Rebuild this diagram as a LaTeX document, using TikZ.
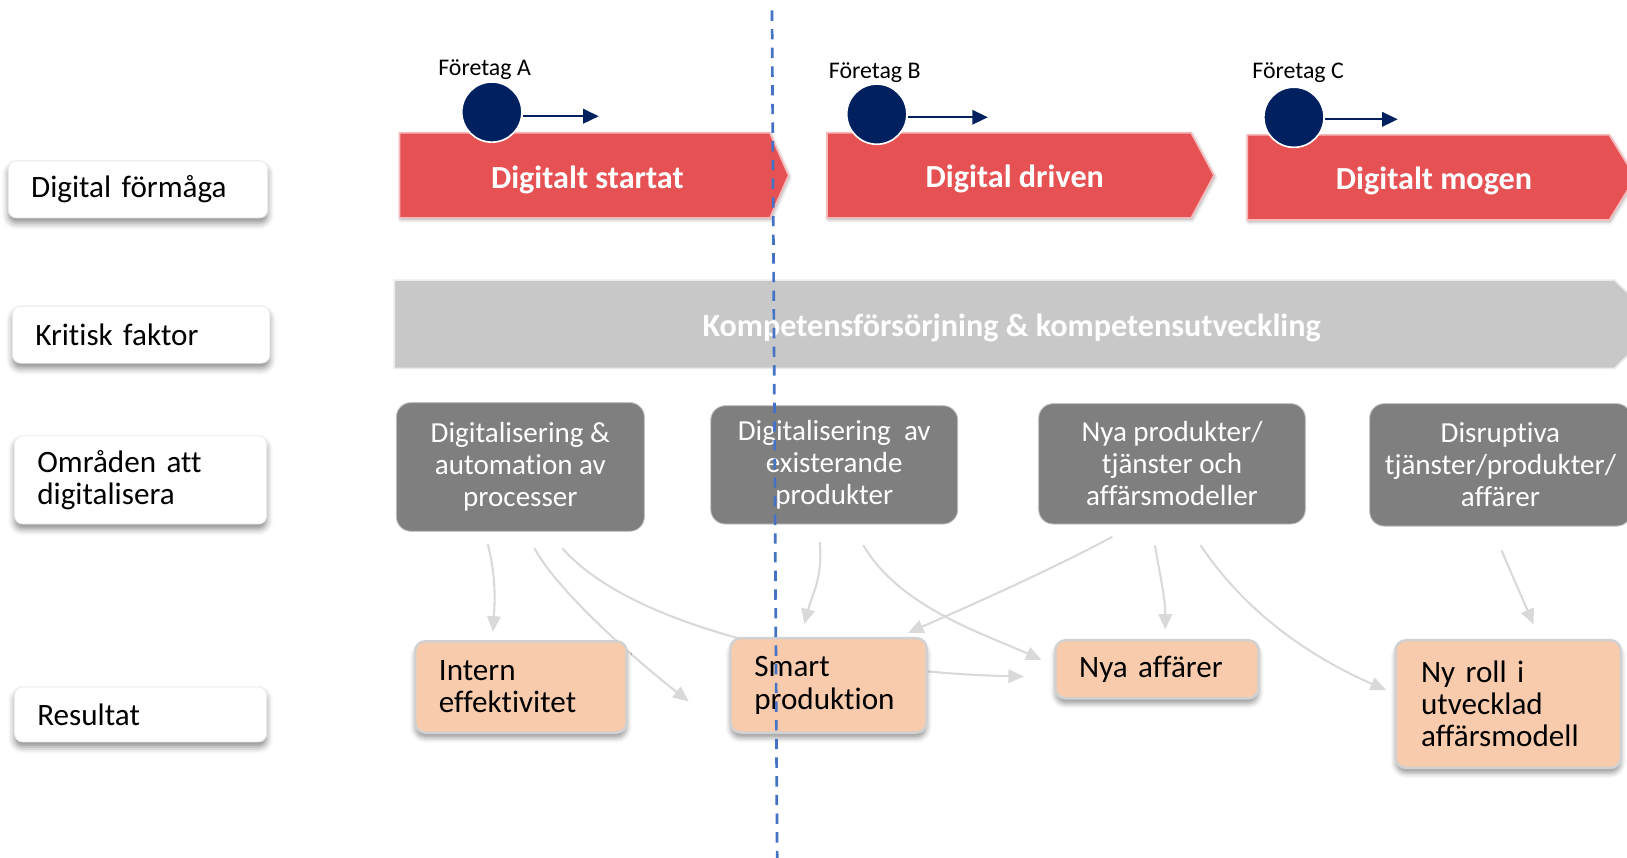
\documentclass[tikz,border=0pt]{standalone}
\usepackage{fontspec}
\setmainfont{Carlito}[Ligatures=NoCommon]
\usetikzlibrary{arrows.meta,calc,shadows.blur}

\definecolor{stagered}{RGB}{230,82,84}
\definecolor{firmnavy}{RGB}{0,32,96}
\definecolor{areagray}{RGB}{127,127,127}
\definecolor{bandgray}{RGB}{200,200,200}
\definecolor{respeach}{RGB}{248,203,173}
\definecolor{flowgray}{RGB}{217,217,217}
\definecolor{cutblue}{RGB}{68,114,196}

\pgfdeclarelayer{background}
\pgfsetlayers{background,main}

\begin{document}
\begin{tikzpicture}[x=0.5pt,y=-0.5pt,
    side/.style = {draw=black!8, fill=white, rounded corners=4pt, inner xsep=11pt, align=left,
        font=\fontsize{15}{15.5}\selectfont,
        blur shadow={shadow xshift=0pt, shadow yshift=-2.5pt, shadow blur radius=3pt, shadow opacity=45}},
    stage/.style = {fill=stagered, draw=stagered!40, line width=0.8pt,
        blur shadow={shadow xshift=0.5pt, shadow yshift=-1pt, shadow blur radius=1.5pt, shadow opacity=30}},
    stagetxt/.style = {text=white, font=\bfseries\fontsize{15.5}{18}\selectfont},
    band/.style = {fill=bandgray, draw=black!8, line width=0.8pt},
    firm/.style = {circle, fill=firmnavy, draw=white, line width=0.8pt, minimum size=29pt, inner sep=0pt},
    firmlbl/.style = {font=\fontsize{11.5}{13}\selectfont},
    move/.style = {draw=firmnavy, line width=0.9pt, -{Triangle[length=7.5pt,width=7pt]}},
    area/.style = {fill=areagray, draw=black!25, rounded corners=7pt, text=white, align=center,
        inner xsep=2pt, font=\fontsize{14}{15.5}\selectfont},
    res/.style = {fill=respeach, draw=black!18, line width=1.2pt, rounded corners=5pt, align=left,
        inner xsep=11.5pt, font=\fontsize{15}{15.5}\selectfont,
        blur shadow={shadow xshift=0pt, shadow yshift=-2.5pt, shadow blur radius=2.5pt, shadow opacity=40}},
    flow/.style = {draw=flowgray, line width=1pt, -{Triangle[length=7.5pt,width=6.5pt]}},
    cut/.style = {draw=cutblue, line width=1.3pt, dash pattern=on 5pt off 4pt}]

\useasboundingbox (0,0) rectangle (1568,826);
\clip (0,0) rectangle (1568,826);

% row labels
\node[side, text width=103pt, minimum height=27.5pt] (l1) at (133,182.5) {Digital förmåga};
\node[side, text width=102pt, minimum height=27.5pt] (l2) at (136,322.5) {Kritisk faktor};
\node[side, text width=99.5pt, minimum height=42.5pt] (l3) at (135.5,462.5) {Områden att\\digitalisera};
\node[side, text width=99.5pt, minimum height=26.5pt] (l4) at (135.5,688.5) {Resultat};

% stages
\draw[stage] (385,128) -- (742,128) -- (760,169) -- (742,210) -- (385,210) -- cycle;
\draw[stage] (797,128) -- (1148,128) -- (1170,169) -- (1148,210) -- (797,210) -- cycle;
\draw[stage] (1202,130) -- (1551,130) -- (1576,171) -- (1551,212) -- (1202,212) -- cycle;
\node[stagetxt] (s1) at (566,173) {Digitalt startat};
\node[stagetxt] (s2) at (978,172) {Digital driven};
\node[stagetxt] (s3) at (1382,174) {Digitalt mogen};

% firms
\node[firm] (cA) at (474,108) {};
\node[firm] (cB) at (845,110) {};
\node[firm] (cC) at (1247,113) {};
\node[firmlbl] (tA) at (467,67) {Företag A};
\node[firmlbl] (tB) at (843,70) {Företag B};
\node[firmlbl] (tC) at (1251,70) {Företag C};
\coordinate (eA) at (577,112);
\coordinate (eB) at (952,113);
\coordinate (eC) at (1347,115);
\draw[move] ([yshift=-2pt]cA.east) -- (eA);
\draw[move] ([yshift=-1.5pt]cB.east) -- (eB);
\draw[move] ([yshift=-1pt]cC.east) -- (eC);

% critical factor
\draw[band] (380,270) -- (1556,270) -- (1600,312) -- (1556,355) -- (380,355) -- cycle;
\node[stagetxt] (kf) at (975,316) {Kompetensförsörjning \& kompetensutveckling};

% areas
\node[area, minimum width=119.5pt, minimum height=62pt] (d1) at (501.5,450) {Digitalisering \&\\automation av\\processer};
\node[area, minimum width=119pt, minimum height=57pt] (d2) at (804,448) {Digitalisering~~av\\existerande\\produkter};
\node[area, minimum width=128.5pt, minimum height=58pt] (d3) at (1129.5,447) {Nya produkter/\\tjänster och\\affärsmodeller};
\node[area, minimum width=126pt, minimum height=59pt] (d4) at (1446,448) {Disruptiva\\tjänster/produkter/\\affärer};

% results
\node[res, text width=79pt, minimum height=44pt] (r1) at (502,662) {Intern\\effektivitet};
\node[res, text width=71.5pt, minimum height=45.5pt] (r2) at (798.5,660.5) {Smart\\produktion};
\node[res, text width=75pt, minimum height=28pt] (r3) at (1115,645) {Nya affärer};
\node[res, text width=84pt, minimum height=61.5pt, inner xsep=12.25pt] (r4) at (1453.5,678.5) {Ny roll i\\utvecklad\\affärsmodell};

\begin{pgfonlayer}{background}
\draw[flow] ($(d1.south)+(-31.5,12)$) .. controls +(8,30) and +(2,-30) .. ($(r1.north)+(-27,-8)$);
\draw[flow] ($(d1.south)+(13.5,16)$) .. controls +(25,45) and +(-45,-35) .. ($(r2.west)+(-39,15.5)$);
\draw[flow] ($(d1.south)+(40.5,16)$) .. controls +(70,80) and +(-170,-4) .. ($(r3.west)+(-29,7)$);
\draw[flow] ($(d2.south)+(-14,17)$) .. controls +(3,35) and +(8,-30) .. ($(r2.north)+(-23.5,-12)$);
\draw[flow] ($(d2.south)+(28,20)$) .. controls +(35,60) and +(-55,-25) .. ($(r3.west)+(-12,-9)$);
\draw[flow] ($(d3.south)+(-57.5,12)$) .. controls +(-60,32) and +(60,-26) .. ($(r2.north)+(76.5,-4)$);
\draw[flow] ($(d3.south)+(-16.5,20)$) .. controls +(6,35) and +(0,-30) .. ($(r3.north)+(8,-9)$);
\draw[flow] ($(d3.south)+(27.5,20)$) .. controls +(40,60) and +(-80,-35) .. ($(r4.west)+(-8,-13.5)$);
\draw[flow] ($(d4.south)+(1,23)$) -- ($(r4.north)+(24.5,-14)$);
\end{pgfonlayer}

% where we are now
\coordinate (dtop) at (744,10);
\coordinate (dbot) at (749,830);
\draw[cut] (dtop) -- (dbot);
\end{tikzpicture}
\end{document}
